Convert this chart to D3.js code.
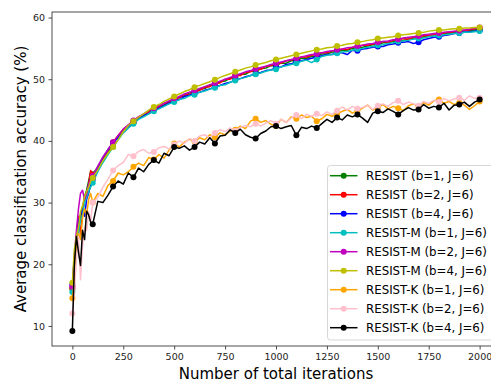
<!DOCTYPE html>
<html>
<head>
<meta charset="utf-8">
<script src="https://cdn.jsdelivr.net/npm/d3@7"></script>
<style>
  body { margin: 0; background: #fff; }
  text { font-family: "DejaVu Sans", sans-serif; }
</style>
</head>
<body>
<svg id="chart" width="491" height="382"></svg>
<script>
// iterations at which accuracy was recorded
var iters = [0, 10, 20, 30, 40, 50, 60, 70, 80, 90, 100];
for (var it = 125; it <= 2000; it += 25) iters.push(it);

var xTicks = [0, 250, 500, 750, 1000, 1250, 1500, 1750, 2000];
var yTicks = [10, 20, 30, 40, 50, 60];

var names = ["RESIST (b=1, J=6)", "RESIST (b=2, J=6)", "RESIST (b=4, J=6)",
  "RESIST-M (b=1, J=6)", "RESIST-M (b=2, J=6)", "RESIST-M (b=4, J=6)",
  "RESIST-K (b=1, J=6)", "RESIST-K (b=2, J=6)", "RESIST-K (b=4, J=6)"];
var colors = ["#008000", "#ff0000", "#0000ff", "#00bfbf", "#bf00bf", "#bfbf00",
  "#ffa500", "#ffc0cb", "#000000"];

var resist_b1 = [16.0, 20.5, 23.8, 26.5, 27.5, 29.0, 31.0, 32.0, 33.5, 35.0, 34.6,
  35.8, 37.2, 38.1, 39.6, 40.8, 41.5, 42.6, 43.0, 43.8, 44.1,
  44.8, 45.0, 45.6, 45.8, 46.4, 46.6, 47.1, 47.3, 47.8, 47.9,
  48.4, 48.5, 49.0, 49.1, 49.6, 49.7, 50.2, 50.3, 50.8, 50.8,
  51.3, 51.3, 51.7, 51.8, 52.2, 52.2, 52.6, 52.6, 53.0, 53.0,
  53.4, 53.4, 53.7, 53.7, 54.1, 54.1, 54.4, 54.4, 54.7, 54.7,
  55.0, 55.1, 55.2, 55.4, 55.6, 55.6, 55.9, 55.9, 56.1, 56.2,
  56.3, 56.5, 56.7, 56.7, 56.9, 57.0, 57.2, 57.2, 57.4, 57.4,
  57.6, 57.7, 57.8, 57.9, 58.0, 58.1];
var resist_b2 = [16.2, 19.5, 24.5, 27.8, 24.8, 28.5, 30.5, 31.2, 33.0, 35.2, 34.5,
  35.4, 37.0, 38.5, 39.8, 40.9, 41.9, 42.5, 43.2, 43.9, 44.3,
  44.6, 45.3, 45.5, 46.1, 46.2, 46.8, 47.0, 47.5, 47.5, 48.0,
  48.2, 48.7, 48.8, 49.3, 49.4, 50.0, 50.0, 50.6, 50.6, 51.1,
  51.2, 51.6, 51.6, 52.1, 52.2, 52.6, 52.6, 53.0, 53.1, 53.3,
  53.6, 53.6, 53.9, 54.0, 54.3, 54.3, 54.6, 54.6, 54.9, 54.8,
  55.2, 55.2, 55.5, 55.5, 55.7, 55.8, 56.1, 56.0, 56.3, 56.3,
  56.6, 56.5, 56.8, 56.8, 57.1, 57.0, 57.3, 57.3, 57.5, 57.6,
  57.7, 57.8, 57.9, 58.0, 58.2, 58.3];
var resist_b4 = [16.7, 21.0, 22.5, 27.0, 28.0, 29.0, 27.8, 30.5, 31.5, 33.0, 33.8,
  35.7, 37.3, 38.6, 39.7, 40.5, 41.4, 42.2, 43.0, 43.6, 44.2,
  44.4, 45.1, 45.3, 45.7, 46.1, 46.5, 46.7, 47.2, 47.4, 47.7,
  47.9, 48.2, 48.4, 48.8, 49.0, 49.3, 49.5, 49.9, 50.1, 50.4,
  50.6, 50.9, 51.1, 51.4, 51.5, 51.9, 52.0, 52.4, 52.5, 52.9,
  53.0, 53.2, 53.4, 53.6, 53.8, 54.0, 54.0, 54.3, 54.3, 54.0,
  54.7, 54.6, 54.9, 55.0, 55.2, 55.3, 55.3, 55.6, 55.7, 55.9,
  56.0, 56.1, 55.8, 56.0, 56.4, 56.6, 56.8, 56.9, 57.1, 57.2,
  57.4, 57.5, 57.6, 57.7, 57.8, 57.9];
var resistM_b1 = [15.5, 19.0, 22.0, 25.0, 27.2, 28.0, 30.0, 30.8, 31.8, 32.5, 33.2,
  35.0, 36.5, 37.8, 39.0, 40.2, 41.3, 42.1, 42.8, 43.5, 43.9,
  44.4, 44.8, 45.2, 45.6, 46.0, 46.3, 46.7, 46.9, 47.3, 47.5,
  47.9, 48.1, 48.4, 48.6, 49.0, 49.1, 49.5, 49.8, 50.1, 50.3,
  50.6, 50.8, 51.0, 51.3, 51.5, 51.6, 52.0, 52.2, 52.4, 52.6,
  52.9, 53.1, 52.7, 53.2, 53.7, 53.9, 54.0, 54.2, 54.4, 54.5,
  54.7, 54.9, 55.0, 55.2, 55.3, 55.5, 55.6, 55.8, 55.9, 56.1,
  56.2, 56.3, 56.5, 56.6, 56.7, 56.9, 57.0, 57.1, 57.2, 57.3,
  57.4, 57.5, 57.6, 57.6, 57.7, 57.8];
var resistM_b2 = [16.4, 21.5, 25.5, 29.0, 31.5, 32.0, 30.5, 31.5, 33.0, 33.8, 34.3,
  35.9, 37.4, 38.6, 39.8, 40.9, 41.9, 42.6, 43.3, 43.9, 44.4,
  44.9, 45.3, 45.7, 46.1, 46.5, 46.9, 47.2, 47.6, 47.9, 48.2,
  48.5, 48.8, 49.1, 49.4, 49.7, 50.0, 50.3, 50.6, 50.9, 51.2,
  51.4, 51.7, 51.9, 52.1, 52.4, 52.6, 52.8, 53.0, 53.2, 53.4,
  53.6, 53.8, 54.0, 54.1, 54.3, 54.5, 54.6, 54.8, 54.9, 55.1,
  55.2, 55.4, 55.5, 55.7, 55.8, 56.0, 56.1, 56.2, 56.4, 56.5,
  56.7, 56.8, 56.9, 57.0, 57.2, 57.3, 57.4, 57.5, 57.6, 57.7,
  57.8, 57.9, 58.0, 58.1, 58.3, 58.4];
var resistM_b4 = [17.0, 22.5, 24.5, 26.0, 28.5, 29.5, 31.0, 31.8, 32.5, 33.5, 34.0,
  35.3, 36.8, 38.0, 39.0, 40.2, 41.5, 42.5, 43.2, 43.8, 44.4,
  45.0, 45.5, 45.9, 46.4, 46.8, 47.2, 47.6, 48.0, 48.3, 48.7,
  49.0, 49.3, 49.6, 49.9, 50.3, 50.6, 50.9, 51.2, 51.5, 51.8,
  52.0, 52.3, 52.5, 52.7, 53.0, 53.2, 53.4, 53.6, 53.8, 54.0,
  54.2, 54.4, 54.6, 54.8, 54.9, 55.1, 55.2, 55.4, 55.5, 55.7,
  55.8, 56.0, 56.1, 56.3, 56.4, 56.6, 56.7, 56.8, 56.9, 57.1,
  57.2, 57.3, 57.4, 57.5, 57.6, 57.8, 57.9, 58.0, 58.0, 58.1,
  58.2, 58.2, 58.3, 58.3, 58.4, 58.4];
var resistK_b1 = [14.5, 17.5, 22.5, 25.0, 24.0, 27.5, 29.0, 28.0, 30.5, 31.5, 30.0,
  31.5, 31.0, 32.8, 33.5, 34.8, 34.5, 35.0, 35.8, 36.4, 36.0,
  37.3, 37.0, 37.8, 37.2, 38.5, 39.6, 39.0, 39.8, 40.3, 39.9,
  40.5, 40.2, 41.0, 40.6, 41.3, 41.0, 41.6, 41.8, 42.4, 42.0,
  43.2, 43.6, 43.0, 43.3, 42.7, 42.4, 43.5, 43.0, 43.9, 43.6,
  44.2, 43.8, 44.0, 43.2, 43.6, 44.3, 44.0, 44.4, 44.8, 45.1,
  44.5, 44.9, 45.3, 45.8, 45.0, 45.4, 45.9, 45.2, 45.6, 45.3,
  44.9, 45.7, 46.0, 45.5, 46.2, 45.8, 46.5, 46.7, 46.1, 46.4,
  45.9, 46.2, 45.8, 45.1, 45.7, 46.4];
var resistK_b2 = [12.0, 15.5, 21.0, 24.5, 17.5, 23.0, 26.0, 25.5, 28.5, 27.0, 30.0,
  30.8, 32.5, 33.8, 35.2, 36.0, 36.5, 37.8, 37.5, 38.3, 38.6,
  38.0, 38.2, 38.9, 39.1, 38.7, 39.4, 40.0, 39.6, 40.4, 40.0,
  40.8, 41.0, 40.5, 41.3, 41.8, 41.5, 42.1, 41.6, 42.2, 42.5,
  42.3, 42.8, 42.4, 42.9, 43.3, 42.8, 43.5, 43.0, 43.7, 44.2,
  43.6, 44.3, 44.0, 44.4, 44.1, 44.7, 44.3, 44.9, 45.5, 45.0,
  45.6, 45.2, 45.4, 45.8, 45.1, 45.7, 46.0, 45.6, 46.2, 46.5,
  45.9, 46.3, 46.0, 45.7, 46.4, 46.1, 46.6, 46.3, 46.9, 46.5,
  46.8, 47.0, 46.6, 47.3, 46.9, 47.0];
var resistK_b4 = [9.2, 20.0, 24.5, 22.0, 19.8, 25.5, 24.0, 28.6, 28.0, 26.8, 26.5,
  30.2, 30.0, 31.2, 32.6, 33.5, 33.0, 34.8, 34.1, 35.6, 35.0,
  36.2, 36.9, 36.4, 38.0, 37.6, 39.0, 38.8, 39.2, 38.5, 39.0,
  39.8, 39.5, 40.5, 39.6, 40.8, 40.9, 41.8, 41.3, 41.9, 41.0,
  40.6, 40.4, 41.2, 41.6, 42.3, 42.4, 42.0, 42.3, 42.5, 40.9,
  42.2, 42.0, 42.4, 42.1, 42.8, 43.5, 43.0, 43.8, 43.4, 44.2,
  43.9, 44.3, 43.7, 43.0, 44.5, 44.8, 44.6, 45.2, 44.8, 44.3,
  44.9, 45.4, 45.0, 45.1, 45.9, 45.3, 45.6, 45.4, 46.1, 45.0,
  45.8, 45.9, 46.3, 45.6, 46.3, 46.7];

var seriesValues = [resist_b1, resist_b2, resist_b4, resistM_b1, resistM_b2, resistM_b4,
  resistK_b1, resistK_b2, resistK_b4];

var svg = d3.select("#chart");
var margin = {top: 12, right: -9, bottom: 36, left: 52},
  width = 491, height = 382;

var x = d3.scaleLinear().domain([-100, 2100]).range([margin.left, width - margin.right]);
var y = d3.scaleLinear().domain([6.75, 60.9]).range([height - margin.bottom, margin.top]);

var series = seriesValues.map(function(vals, i) {
  return {name: names[i], color: colors[i],
    points: vals.map(function(v, j) { return {it: iters[j], v: v}; })};
});

var line = d3.line().x(d => x(d.it)).y(d => y(d.v));

var plot = svg.append("g");
series.forEach(function(s) {
  var g = plot.append("g");
  g.append("path")
    .attr("d", line(s.points))
    .attr("fill", "none")
    .attr("stroke", s.color)
    .attr("stroke-width", 1.5)
    .attr("stroke-linejoin", "round");
  g.selectAll("circle").data(s.points.filter(d => d.it % 100 === 0)).enter().append("circle")
    .attr("cx", d => x(d.it))
    .attr("cy", d => y(d.v))
    .attr("r", 3)
    .attr("fill", s.color);
});

// axes
var xAxis = svg.append("g")
  .attr("transform", "translate(0," + (height - margin.bottom) + ")")
  .call(d3.axisBottom(x).tickValues(xTicks).tickFormat(d3.format("d"))
    .tickSize(3.5).tickPadding(3.5).tickSizeOuter(0));
var yAxis = svg.append("g")
  .attr("transform", "translate(" + margin.left + ",0)")
  .call(d3.axisLeft(y).tickValues(yTicks).tickFormat(d3.format("d"))
    .tickSize(3.5).tickPadding(3.5).tickSizeOuter(0));
[xAxis, yAxis].forEach(function(a) {
  a.selectAll("text").attr("font-size", 9.5).attr("fill", "#222")
    .style("font-family", "DejaVu Sans");
  a.selectAll("line").attr("stroke", "#222").attr("stroke-width", 0.8);
  a.select(".domain").remove();
});

// spines
svg.append("rect")
  .attr("x", margin.left).attr("y", margin.top)
  .attr("width", x(2100) - margin.left)
  .attr("height", y(6.75) - margin.top)
  .attr("fill", "none").attr("stroke", "#222").attr("stroke-width", 0.8);

svg.append("text")
  .attr("x", (margin.left + x(2100)) / 2)
  .attr("y", 378.6)
  .attr("text-anchor", "middle")
  .attr("font-size", 15)
  .text("Number of total iterations");

svg.append("text")
  .attr("transform", "translate(25.5," + ((margin.top + y(6.75)) / 2) + ") rotate(-90)")
  .attr("text-anchor", "middle")
  .attr("font-size", 15)
  .text("Average classification accuracy (%)");

// legend
var legend = svg.append("g").attr("transform", "translate(327.5,165.5)");
legend.append("rect")
  .attr("width", 180).attr("height", 174.5).attr("rx", 3)
  .attr("fill", "white").attr("fill-opacity", 0.8)
  .attr("stroke", "#cccccc").attr("stroke-width", 0.8);
var item = legend.selectAll("g.item").data(series).enter().append("g")
  .attr("transform", (d, i) => "translate(0," + (10.2 + i * 19) + ")");
item.append("line")
  .attr("x1", 2.5).attr("x2", 30)
  .attr("stroke", d => d.color).attr("stroke-width", 1.5);
item.append("circle")
  .attr("cx", 16.2).attr("r", 3)
  .attr("fill", d => d.color);
item.append("text")
  .attr("x", 38.5).attr("dy", "0.35em")
  .attr("font-size", 11.8)
  .text(d => d.name);
</script>
</body>
</html>
